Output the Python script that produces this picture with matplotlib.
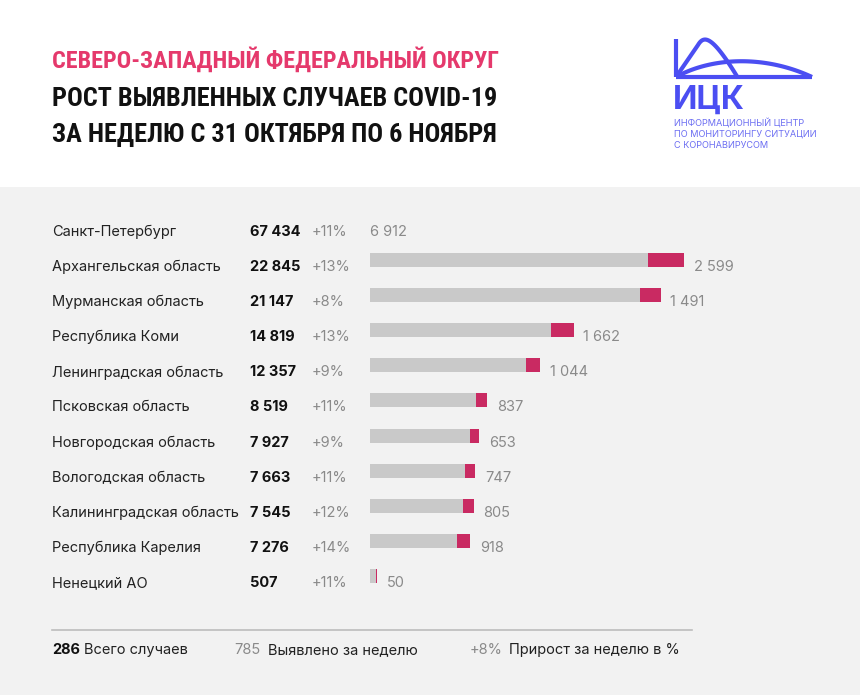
import matplotlib
matplotlib.use("Agg")
import matplotlib.pyplot as plt
from matplotlib import font_manager
from matplotlib.patches import Rectangle
from matplotlib.transforms import blended_transform_factory
import numpy as np

# -------------------------
# Data
# -------------------------
regions = [
    "Санкт-Петербург", "Архангельская область", "Мурманская область",
    "Республика Коми", "Ленинградская область", "Псковская область",
    "Новгородская область", "Вологодская область", "Калининградская область",
    "Республика Карелия", "Ненецкий АО",
]
total_cases = [67434, 22845, 21147, 14819, 12357, 8519, 7927, 7663, 7545, 7276, 507]
weekly_cases = [6912, 2599, 1491, 1662, 1044, 837, 653, 747, 805, 918, 50]
growth_pct = [11, 13, 8, 13, 9, 11, 9, 11, 12, 14, 11]

title_lines = [
    "СЕВЕРО-ЗАПАДНЫЙ ФЕДЕРАЛЬНЫЙ ОКРУГ",
    "РОСТ ВЫЯВЛЕННЫХ СЛУЧАЕВ COVID-19",
    "ЗА НЕДЕЛЮ С 31 ОКТЯБРЯ ПО 6 НОЯБРЯ",
]
logo_lines = ["ИНФОРМАЦИОННЫЙ ЦЕНТР", "ПО МОНИТОРИНГУ СИТУАЦИИ", "С КОРОНАВИРУСОМ"]

PINK = "#E5396C"
BAR_PINK = "#C92A62"
GREY_BAR = "#C9C9C9"
GREY_TXT = "#8A8A8A"
PANEL = "#F2F2F2"
BLUE = "#4B4EF2"

W, H = 860, 695

available = {f.name for f in font_manager.fontManager.ttflist}


def pick(cands):
    for c in cands:
        if c in available:
            return c
    return "DejaVu Sans"


narrow = pick(["Roboto Condensed", "Open Sans Condensed", "Liberation Sans Narrow", "Roboto"])
body = pick(["Inter", "Lato", "Roboto"])


def fx(x):
    return x / W


def fy(y):
    return 1 - y / H


def fmt(n):
    return f"{n:,}".replace(",", " ")


def bezier(p0, p1, p2, p3, k=80):
    t = np.linspace(0, 1, k)[:, None]
    pts = ((1 - t) ** 3 * np.array(p0) + 3 * (1 - t) ** 2 * t * np.array(p1)
           + 3 * (1 - t) * t ** 2 * np.array(p2) + t ** 3 * np.array(p3))
    return pts[:, 0], pts[:, 1]


fig = plt.figure(figsize=(W / 100, H / 100), dpi=100)
fig.patch.set_facecolor("white")

# grey panel
fig.patches.append(Rectangle((0, 0), 1, fy(187), transform=fig.transFigure,
                             facecolor=PANEL, edgecolor="none", zorder=-5))

# -------------------------
# Title (fit to width)
# -------------------------
renderer = fig.canvas.get_renderer()
title_y = [60, 99, 135]
title_w = [448, 446, 447]
for i, line in enumerate(title_lines):
    t = fig.text(fx(52), fy(title_y[i]), line, fontsize=26, family=narrow,
                 fontweight="bold", color=PINK if i == 0 else "#111111",
                 va="center", ha="left")
    w = t.get_window_extent(renderer).width
    t.set_fontsize(26 * title_w[i] / w)

# -------------------------
# Logo
# -------------------------
lax = fig.add_axes([fx(660), fy(115), fx(170), (115 - 30) / H])
lax.set_xlim(660, 830)
lax.set_ylim(115, 30)
lax.axis("off")
lw = 3.0
lax.plot([676, 676], [39, 77], color=BLUE, lw=lw, solid_capstyle="butt")
lax.plot([676, 812], [77, 77], color=BLUE, lw=lw, solid_capstyle="butt")
bx, by = bezier((698, 45), (704, 35), (712, 35), (738, 78))
lax.plot(np.r_[676, bx], np.r_[77, by], color=BLUE, lw=lw, solid_capstyle="butt")
bx, by = bezier((676, 77), (712, 57), (765, 55), (812, 77))
lax.plot(bx, by, color=BLUE, lw=lw, solid_capstyle="butt")
fig.text(fx(673), fy(100), "ИЦК", fontsize=23, fontweight="bold", family=body,
         color=BLUE, va="center", ha="left")
for i, s in enumerate(logo_lines):
    fig.text(fx(674), fy(123 + 11.5 * i), s, fontsize=6.6, family=body,
             color="#6C6EF2", va="center", ha="left")

# -------------------------
# Bars
# -------------------------
n = len(regions)
row0, step = 232, 35.1
top_px = row0 - step / 2
bot_px = row0 + step * (n - 0.5)
ax = fig.add_axes([fx(370), fy(bot_px), fx(720) - fx(370), (bot_px - top_px) / H])
ax.set_xlim(0, 350 / 0.01375)
ax.set_ylim(n - 0.5, -0.5)
ax.axis("off")

ypos = np.arange(n)
bar_y = ypos - 7 / step
bar_h = 14 / step
for i in range(n):
    if total_cases[i] > ax.get_xlim()[1]:
        # off-scale: only the weekly label
        ax.text(0, ypos[i], fmt(weekly_cases[i]), fontsize=10.5, family=body,
                color=GREY_TXT, va="center", ha="left")
        continue
    base = total_cases[i] - weekly_cases[i]
    ax.barh(bar_y[i], base, height=bar_h, color=GREY_BAR, left=0)
    ax.barh(bar_y[i], weekly_cases[i], height=bar_h, color=BAR_PINK, left=base)
    ax.annotate(fmt(weekly_cases[i]), (total_cases[i], ypos[i]),
                xytext=(7, 0), textcoords="offset points", fontsize=10.5,
                family=body, color=GREY_TXT, va="center", ha="left")

tr = blended_transform_factory(fig.transFigure, ax.transData)
for i in range(n):
    ax.text(fx(52), ypos[i], regions[i], transform=tr, fontsize=10.5, family=body,
            color="#222222", va="center", ha="left")
    ax.text(fx(250), ypos[i], fmt(total_cases[i]), transform=tr, fontsize=10.5,
            family=body, fontweight="bold", color="#111111", va="center", ha="left")
    ax.text(fx(312), ypos[i], f"+{growth_pct[i]}%", transform=tr, fontsize=10.5,
            family=body, color=GREY_TXT, va="center", ha="left")

# -------------------------
# Footer legend
# -------------------------
fig.add_artist(plt.Line2D([fx(52), fx(692)], [fy(630), fy(630)],
                          transform=fig.transFigure, color="#BDBDBD", lw=1.2))
fy_leg = fy(650)
fig.text(fx(52), fy_leg, "286", fontsize=10.5, family=body, fontweight="bold",
         color="#111111", va="center")
fig.text(fx(84), fy_leg, "Всего случаев", fontsize=10.5, family=body,
         color="#222222", va="center")
fig.text(fx(234), fy_leg, "785", fontsize=10.5, family=body, color=GREY_TXT, va="center")
fig.text(fx(268), fy_leg, "Выявлено за неделю", fontsize=10.5, family=body,
         color="#222222", va="center")
fig.text(fx(470), fy_leg, "+8%", fontsize=10.5, family=body, color=GREY_TXT, va="center")
fig.text(fx(509), fy_leg, "Прирост за неделю в %", fontsize=10.5, family=body,
         color="#222222", va="center")

fig.savefig("out.png", dpi=100, facecolor=fig.get_facecolor())
